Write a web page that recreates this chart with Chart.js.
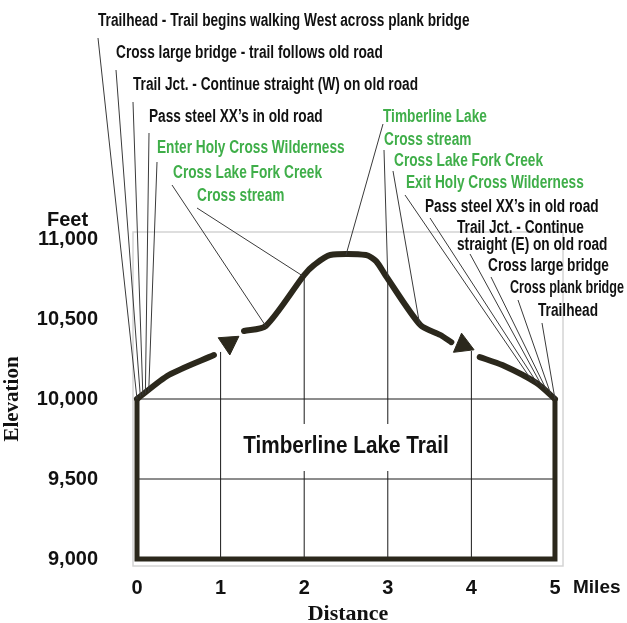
<!DOCTYPE html>
<html>
<head>
<meta charset="utf-8">
<script src="https://cdn.jsdelivr.net/npm/chart.js@4.4.1/dist/chart.umd.min.js"></script>
<style>
  html, body { margin: 0; padding: 0; background: #fff; }
</style>
</head>
<body>
<canvas id="profile" width="627" height="623"></canvas>
<script>
// axis ticks
const mileTicks = [0, 1, 2, 3, 4, 5];
const feetTicks = [9000, 9500, 10000, 10500, 11000];

// trail profile (null = break in the line)
const profileMiles = [0, 0.38, 0.92, 1.1, 1.28, 1.54, 2.0, 2.12, 2.31, 2.74, 2.86, 2.97, 3.39, 3.63, 3.76, 3.9, 4.1, 4.37, 4.78, 5.0];
const profileFeet = [10000, 10150, 10275, null, 10425, 10456, 10775, 10838, 10900, 10900, 10862, 10775, 10462, 10400, 10355, null, 10262, 10212, 10100, 10000];

// direction arrows on the line
const arrowMiles = [1.10, 3.90];
const arrowFeet = [10350, 10337];
const arrowTurn = [56, 113];

// grid: mile posts run up to the line, shelves at 10,000 and 9,500
const postMiles = [1, 2, 3, 4];
const postTopFeet = [10294, 10775, 10755, 10300];
const shelfFeet = [10000, 9500];
const baseFeet = 9000;

// waypoint notes and where their leaders touch the line
const noteText = [
    'Trailhead - Trail begins walking West across plank bridge',
    'Cross large bridge - trail follows old road',
    'Trail Jct. - Continue straight (W) on old road',
    'Pass steel XX\u2019s in old road',
    'Enter Holy Cross Wilderness',
    'Cross Lake Fork Creek',
    'Cross stream',
    'Timberline Lake',
    'Cross stream',
    'Cross Lake Fork Creek',
    'Exit Holy Cross Wilderness',
    'Pass steel XX\u2019s in old road',
    'Trail Jct. - Continue\nstraight (E) on old road',
    'Cross large bridge',
    'Cross plank bridge',
    'Trailhead',
];
const noteMiles = [0, 0.04, 0.07, 0.1, 0.14, 1.54, 1.98, 2.5, 3.0, 3.38, 4.72, 4.79, 4.85, 4.9, 4.95, 5.0];
const noteFeet = [10000, 10015, 10025, 10035, 10045, 10456, 10770, 10900, 10760, 10470, 10118, 10097, 10075, 10055, 10030, 10000];

// label placement: text left, text middle, leader start x, leader start y, green?
const noteLayout = [
    [98, 21, 98, 38, 0],
    [116, 53, 116, 70, 0],
    [133, 85, 133, 102, 0],
    [149, 117, 149, 133, 0],
    [157, 148, 157, 162, 1],
    [173, 173, 172, 185, 1],
    [197, 196, 197, 208, 1],
    [383, 117, 383, 124, 1],
    [384, 140, 384, 150, 1],
    [394, 161, 393, 171, 1],
    [406, 183, 405, 195, 1],
    [425, 207, 430, 218, 0],
    [457, 228, 470, 254, 0],
    [488, 266, 491, 277, 0],
    [510, 288, 518, 300, 0],
    [538, 311, 542, 323, 0],
];

const INK = '#2b281c';
const GREEN = '#3fae49';
const NOTE_FONT = 'bold 18px "Liberation Sans", Arial, sans-serif';
const NOTE_SQUEEZE = 0.76;   // the drawing uses a condensed face

function pts(xs, ys) {
    return xs.map((x, i) => ({ x: x, y: ys[i] }));
}

function squeezedText(ctx, text, x, y, sx, maxW) {
    ctx.save();
    ctx.translate(x, y);
    ctx.scale(sx, 1);
    if (maxW) ctx.fillText(text, 0, 0, maxW / sx);
    else ctx.fillText(text, 0, 0);
    ctx.restore();
}

const gridData = [];
postMiles.forEach((m, i) => {
    gridData.push({ x: m, y: baseFeet }, { x: m, y: postTopFeet[i] }, { x: m, y: null });
});
shelfFeet.forEach(f => {
    gridData.push({ x: 0, y: f }, { x: 5, y: f }, { x: 5, y: null });
});

const frameData = [
    { x: 0, y: shelfFeet[0] }, { x: 0, y: baseFeet }, { x: 5, y: baseFeet }, { x: 5, y: shelfFeet[0] },
];

const decor = {
    id: 'decor',
    beforeDatasetsDraw(chart) {
        const { ctx, chartArea: a } = chart;
        ctx.save();
        ctx.strokeStyle = '#d4d4d4';
        ctx.lineWidth = 1.5;
        ctx.strokeRect(a.left, a.top, a.right - a.left, a.bottom - a.top);
        ctx.restore();
    },
    afterDatasetsDraw(chart) {
        const { ctx, width } = chart;
        const xs = chart.scales.x, ys = chart.scales.y;
        ctx.save();

        // title box knocks out the mile posts behind it
        const tx = xs.getPixelForValue(2.5);
        const y10 = ys.getPixelForValue(10000), y95 = ys.getPixelForValue(9500);
        const ty = y10 + (y95 - y10) * 0.6;
        ctx.font = 'bold 23px "Liberation Sans", Arial, sans-serif';
        const tw = ctx.measureText('Timberline Lake Trail').width * 0.9;
        ctx.fillStyle = '#fff';
        ctx.fillRect(tx - tw / 2 - 14, ty - 23, tw + 28, 47);
        ctx.fillStyle = '#111';
        ctx.textAlign = 'center';
        ctx.textBaseline = 'middle';
        squeezedText(ctx, 'Timberline Lake Trail', tx, ty, 0.9);

        // leaders
        ctx.strokeStyle = '#3a3a3a';
        ctx.lineWidth = 1;
        noteText.forEach((t, i) => {
            const L = noteLayout[i];
            ctx.beginPath();
            ctx.moveTo(L[2], L[3]);
            ctx.lineTo(xs.getPixelForValue(noteMiles[i]), ys.getPixelForValue(noteFeet[i]));
            ctx.stroke();
        });

        // note labels, kept inside the picture on the right
        ctx.font = NOTE_FONT;
        ctx.textAlign = 'left';
        noteText.forEach((t, i) => {
            const L = noteLayout[i];
            ctx.fillStyle = L[4] ? GREEN : '#111';
            t.split('\n').forEach((line, k) =>
                squeezedText(ctx, line, L[0], L[1] + k * 17, NOTE_SQUEEZE, width - 3 - L[0]));
        });

        ctx.fillStyle = '#111';
        ctx.font = 'bold 20px "Liberation Sans", Arial, sans-serif';
        ctx.fillText('Feet', 47, 220);
        ctx.font = 'bold 19px "Liberation Sans", Arial, sans-serif';
        ctx.fillText('Miles', 573, 588);
        ctx.restore();
    },
};

new Chart(document.getElementById('profile'), {
    type: 'line',
    data: {
        datasets: [
            {
                data: pts(arrowMiles, arrowFeet),
                showLine: false,
                pointStyle: 'triangle',
                pointRadius: 12,
                pointRotation: arrowTurn,
                pointBackgroundColor: INK,
                pointBorderColor: INK,
                pointBorderWidth: 1,
            },
            {
                data: pts(profileMiles, profileFeet),
                borderColor: INK,
                borderWidth: 6,
                borderCapStyle: 'round',
                borderJoinStyle: 'round',
                tension: 0.25,
                spanGaps: false,
                pointRadius: 0,
            },
            {
                data: frameData,
                borderColor: INK,
                borderWidth: 5,
                borderJoinStyle: 'miter',
                tension: 0,
                pointRadius: 0,
            },
            {
                data: gridData,
                borderColor: '#1a1a1a',
                borderWidth: 1,
                tension: 0,
                spanGaps: false,
                pointRadius: 0,
            },
        ],
    },
    options: {
        responsive: false,
        animation: false,
        events: [],
        layout: { padding: { top: 232, right: 64, left: 0, bottom: 0 } },
        plugins: { legend: { display: false }, tooltip: { enabled: false } },
        scales: {
            x: {
                type: 'linear',
                min: -0.048,
                max: 5.096,
                grid: { display: false, drawTicks: false },
                border: { display: false },
                afterBuildTicks(s) { s.ticks = mileTicks.map(v => ({ value: v })); },
                afterFit(s) { s.height = 57; },
                ticks: {
                    padding: 10,
                    maxRotation: 0,
                    autoSkip: false,
                    color: '#111',
                    font: { family: '"Liberation Sans", Arial, sans-serif', weight: 'bold', size: 20 },
                },
                title: {
                    display: true,
                    text: 'Distance',
                    color: '#111',
                    padding: 0,
                    font: { family: '"Liberation Serif", "Times New Roman", serif', weight: 'bold', size: 22, lineHeight: 0.8 },
                },
            },
            y: {
                min: 8956.25,
                max: 11043.75,
                grid: { display: false, drawTicks: false },
                border: { display: false },
                afterBuildTicks(s) { s.ticks = feetTicks.map(v => ({ value: v })); },
                afterFit(s) { s.width = 133; },
                ticks: {
                    padding: 35,
                    color: '#111',
                    font: { family: '"Liberation Sans", Arial, sans-serif', weight: 'bold', size: 20 },
                    callback: v => v.toLocaleString('en-US'),
                },
                title: {
                    display: true,
                    text: 'Elevation',
                    color: '#111',
                    padding: { top: 0, bottom: 0 },
                    font: { family: '"Liberation Serif", "Times New Roman", serif', weight: 'bold', size: 21 },
                },
            },
        },
    },
    plugins: [decor],
});
</script>
</body>
</html>
